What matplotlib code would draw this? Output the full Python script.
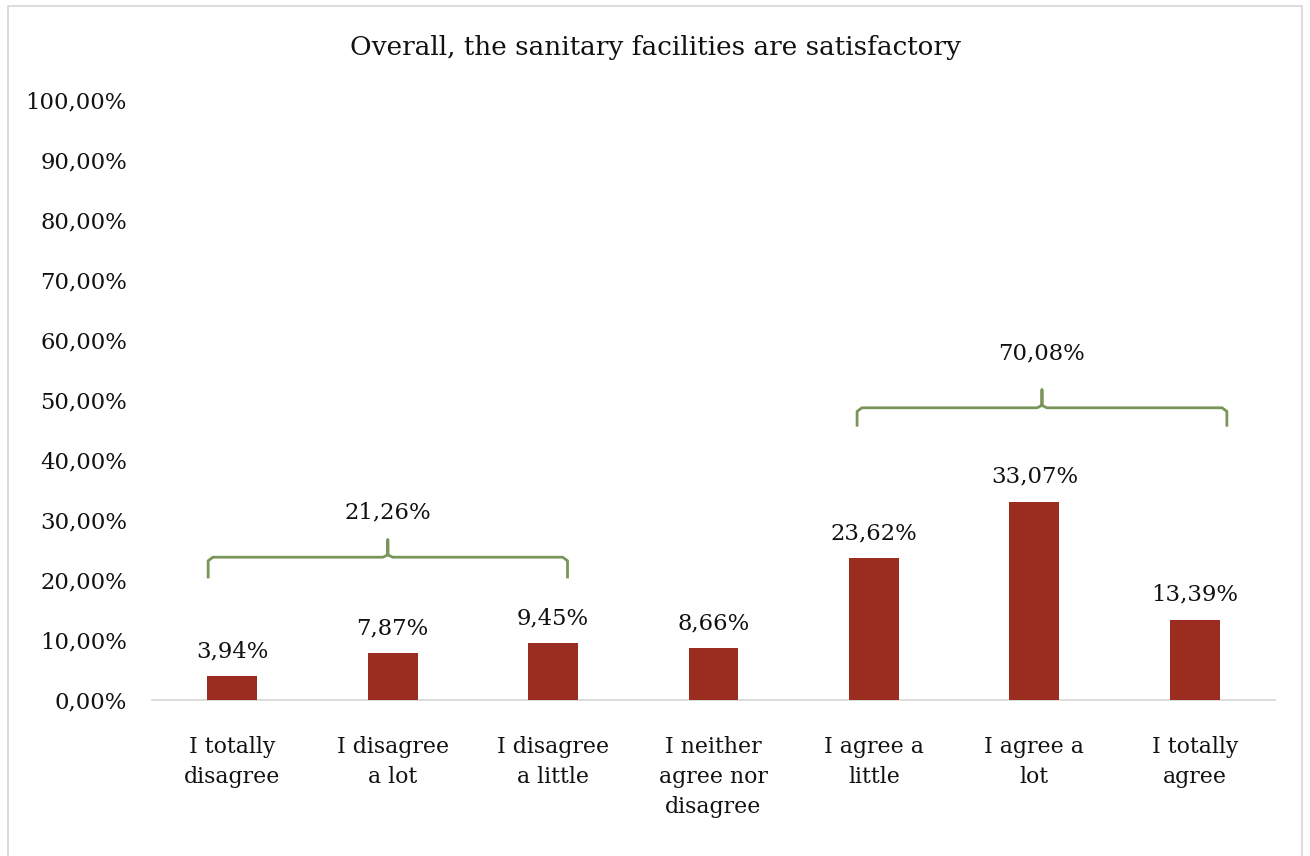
import matplotlib
matplotlib.use('Agg')
import matplotlib.pyplot as plt
from matplotlib.patches import Rectangle

# ─── Data ─────────────────────────────────────────────────────────────
categories = ['I totally\ndisagree', 'I disagree\na lot', 'I disagree\na little',
              'I neither\nagree nor\ndisagree', 'I agree a\nlittle', 'I agree a\nlot',
              'I totally\nagree']
values = [3.94, 7.87, 9.45, 8.66, 23.62, 33.07, 13.39]
yticks = [0, 10, 20, 30, 40, 50, 60, 70, 80, 90, 100]

# groups for braces: (first index, last index, label)
groups = [(0, 2, '21,26%'), (4, 6, '70,08%')]

BAR = '#9B2D20'
BRACE = '#7A955A'
TXT = '#111111'

plt.rcParams['font.family'] = ['DejaVu Serif']


def fmt(v):
    return f"{v:.2f}".replace('.', ',') + '%'


fig = plt.figure(figsize=(13.1, 8.56), dpi=100, facecolor='white')
ax = fig.add_axes([152 / 1310, 1 - 700 / 856, (1275 - 152) / 1310, 600 / 856])

x = range(len(values))
ax.bar(x, values, width=0.31, color=BAR, zorder=3)
for xi, v in zip(x, values):
    ax.text(xi, v + 2.3, fmt(v), ha='center', va='bottom', fontsize=16.4, color=TXT)

ax.set_xlim(-0.5, len(values) - 0.5)
ax.set_ylim(0, 100)
ax.set_yticks(yticks)
ax.set_yticklabels([fmt(t) for t in yticks], fontsize=16.4, color=TXT)
ax.set_xticks(list(x))
ax.set_xticklabels(categories, fontsize=15.8, color=TXT, linespacing=1.48)
ax.tick_params(axis='both', length=0)
ax.tick_params(axis='x', pad=26)
ax.tick_params(axis='y', pad=18)

for s in ['top', 'right', 'left']:
    ax.spines[s].set_visible(False)
ax.spines['bottom'].set_color('#D9D9D9')
ax.spines['bottom'].set_linewidth(1.3)

# ─── Braces ───────────────────────────────────────────────────────────
brace_levels = [(20.5, 23.8, 26.7, 31.2), (45.8, 48.7, 51.7, 57.8)]
brace_ext = [(-0.15, 2.09), (3.895, 6.2)]
for (i0, i1, lab), (yb, ym, yt, yl), (x0, x1) in zip(groups, brace_levels, brace_ext):
    xm = (x0 + x1) / 2
    r = 0.03
    ax.plot([x0, x0, x0 + r, xm - r, xm, xm, xm, xm + r, x1 - r, x1, x1],
            [yb, ym - 0.6, ym, ym, ym + 0.4, yt, ym + 0.4, ym, ym, ym - 0.6, yb],
            color=BRACE, lw=2, solid_joinstyle='round', clip_on=False)
    ax.text(xm, yl, lab, ha='center', va='center', fontsize=16.4, color=TXT)

fig.text(0.5, 1 - 47 / 856, 'Overall, the sanitary facilities are satisfactory',
         ha='center', va='center', fontsize=18.9, color=TXT)

fig.patches.append(Rectangle((8 / 1310, -0.01), 1294 / 1310, 1 - 6 / 856 + 0.01,
                             transform=fig.transFigure, fill=False,
                             edgecolor='#D9D9D9', lw=1.3))

fig.savefig('out.png', dpi=100, facecolor='white')
